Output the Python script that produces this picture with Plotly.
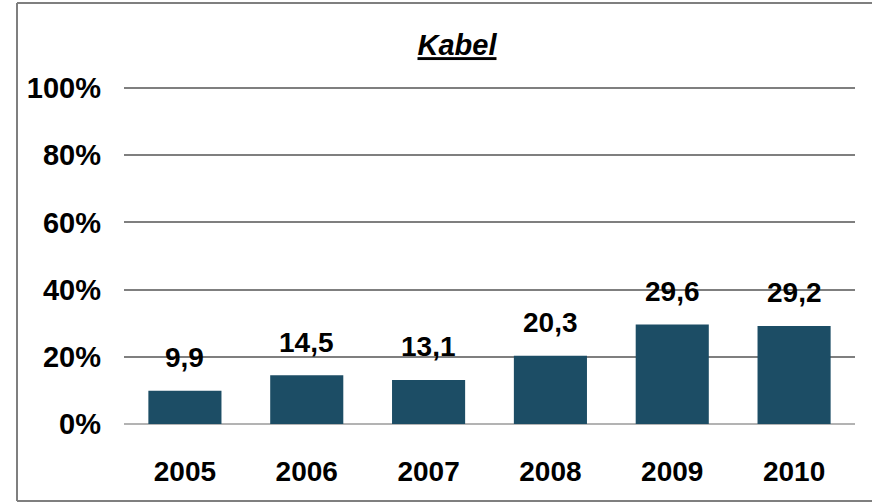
import plotly.graph_objects as go

years = ["2005", "2006", "2007", "2008", "2009", "2010"]
values = [9.9, 14.5, 13.1, 20.3, 29.6, 29.2]
labels = ["9,9", "14,5", "13,1", "20,3", "29,6", "29,2"]
tick_vals = [0, 0.2, 0.4, 0.6, 0.8, 1.0]
tick_text = ["0%", "20%", "40%", "60%", "80%", "100%"]

W, H = 872, 503
L, R, T, B = 124, 17, 87, 79
pw, ph = W - L - R, H - T - B

def px_x(p):
    return (p - L) / pw

def px_y(p):
    return (H - B - p) / ph

font = "Liberation Sans, Arial, sans-serif"
fig = go.Figure()
fig.add_trace(go.Bar(
    x=years, y=[v / 100 for v in values],
    marker=dict(color="#1c4d65", line=dict(width=0)),
    hoverinfo="skip",
))

for i, (v, lab) in enumerate(zip(values, labels)):
    fig.add_annotation(x=i, y=v / 100, text=f"<b>{lab}</b>", showarrow=False,
                       yanchor="middle", yshift=33,
                       font=dict(family=font, size=28, color="black"))

border = dict(color="#7f7f7f", width=2)
bx0, bx1, by0, by1 = px_x(17), px_x(W + 5), px_y(501), px_y(3)
shapes = [
    dict(type="line", xref="paper", yref="paper", x0=bx0, x1=bx0, y0=by0, y1=by1, line=border, layer="below"),
    dict(type="line", xref="paper", yref="paper", x0=bx0, x1=bx1, y0=by1, y1=by1, line=border, layer="below"),
    dict(type="line", xref="paper", yref="paper", x0=bx0, x1=bx1, y0=by0, y1=by0, line=border, layer="below"),
]

fig.update_layout(
    width=W, height=H,
    margin=dict(l=L, r=R, t=T, b=B, autoexpand=False),
    paper_bgcolor="white", plot_bgcolor="white",
    bargap=0.4, showlegend=False,
    title=dict(text="<b><i><u>Kabel</u></i></b>", xref="container", x=457 / W, xanchor="center",
               yref="container", y=1 - 45 / H, yanchor="middle",
               font=dict(family=font, size=29, color="black")),
    xaxis=dict(type="category", range=[-0.5, len(years) - 0.5], autorange=False,
               showgrid=False, showline=False, zeroline=False,
               automargin=False,
               tickfont=dict(family=font, size=28, color="black"),
               tickprefix="<b>", ticksuffix="</b>", ticks="", ticklabelstandoff=28),
    yaxis=dict(range=[0, 1.003], autorange=False, tickvals=tick_vals,
               ticktext=[f"<b>{t}</b>" for t in tick_text],
               showgrid=True, gridcolor="#7f7f7f", gridwidth=1.5,
               zeroline=True, zerolinecolor="#b3b3b3", zerolinewidth=2,
               showline=False, ticks="", ticklabelstandoff=22, automargin=False,
               tickfont=dict(family=font, size=29, color="black")),
    shapes=shapes,
)
fig.write_html("out.html", config={"displayModeBar": False},
               post_script="document.body.style.margin='0';document.body.style.overflow='hidden';document.documentElement.style.overflow='hidden';")
